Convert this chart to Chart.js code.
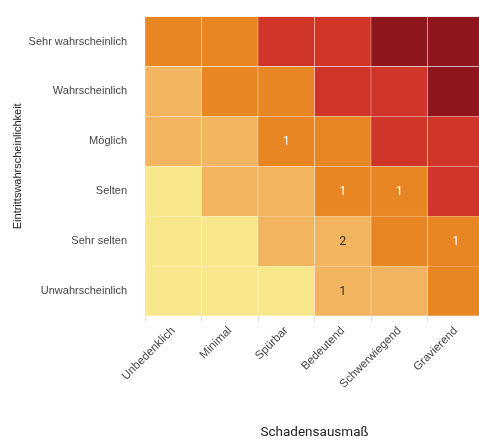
<!DOCTYPE html>
<html>
<head>
<meta charset="utf-8">
<script src="https://cdn.jsdelivr.net/npm/chart.js@4/dist/chart.umd.min.js"></script>
<style>
  html, body { margin: 0; padding: 0; overflow: hidden; background: #fff; width: 479px; height: 441px; }
  #wrap { width: 484px; height: 441px; position: relative; }
</style>
</head>
<body>
<div id="wrap"><canvas id="c"></canvas></div>
<script>
// Columns (impact) and rows (likelihood, top to bottom)
const xLabels = ['Unbedenklich', 'Minimal', 'Spürbar', 'Bedeutend', 'Schwerwiegend', 'Gravierend'];
const yLabels = ['Sehr wahrscheinlich', 'Wahrscheinlich', 'Möglich', 'Selten', 'Sehr selten', 'Unwahrscheinlich'];
// Risk level of each cell (rows top to bottom)
const rowSehrWahrscheinlich = [2, 2, 3, 3, 4, 4];
const rowWahrscheinlich     = [1, 2, 2, 3, 3, 4];
const rowMoeglich           = [1, 1, 2, 2, 3, 3];
const rowSelten             = [0, 1, 1, 2, 2, 3];
const rowSehrSelten         = [0, 0, 1, 1, 2, 2];
const rowUnwahrscheinlich   = [0, 0, 0, 1, 1, 2];
// Counts shown in cells (rows top to bottom)
const cntSehrWahrscheinlich = [0, 0, 0, 0, 0, 0];
const cntWahrscheinlich     = [0, 0, 0, 0, 0, 0];
const cntMoeglich           = [0, 0, 1, 0, 0, 0];
const cntSelten             = [0, 0, 0, 1, 1, 0];
const cntSehrSelten         = [0, 0, 0, 2, 0, 1];
const cntUnwahrscheinlich   = [0, 0, 0, 1, 0, 0];
const levelColors = ['#f8e78b', '#f2b45e', '#e98624', '#cf3528', '#8e161c'];
const levelText   = ['#333333', '#333333', '#ffffff', '#ffffff', '#ffffff'];

const levels = [rowSehrWahrscheinlich, rowWahrscheinlich, rowMoeglich, rowSelten, rowSehrSelten, rowUnwahrscheinlich];
const counts = [cntSehrWahrscheinlich, cntWahrscheinlich, cntMoeglich, cntSelten, cntSehrSelten, cntUnwahrscheinlich];

// datasets stacked bottom-up
const datasets = [];
for (let r = yLabels.length - 1; r >= 0; r--) {
  datasets.push({
    label: yLabels[r],
    data: xLabels.map(() => 1),
    backgroundColor: levels[r].map(l => levelColors[l]),
    borderColor: 'rgba(255,255,255,0.15)',
    borderWidth: 0.5,
    borderSkipped: false,
    barPercentage: 1,
    categoryPercentage: 1,
    rowIndex: r
  });
}

const countPlugin = {
  id: 'counts',
  afterDatasetsDraw(chart) {
    const ctx = chart.ctx;
    ctx.save();
    ctx.font = '400 12.5px Roboto';
    ctx.textAlign = 'center';
    ctx.textBaseline = 'middle';
    chart.data.datasets.forEach((ds, di) => {
      const meta = chart.getDatasetMeta(di);
      meta.data.forEach((bar, ci) => {
        const v = counts[ds.rowIndex][ci];
        if (!v) return;
        const c = bar.getCenterPoint();
        ctx.fillStyle = levelText[levels[ds.rowIndex][ci]];
        ctx.fillText(String(v), c.x, c.y + 1);
      });
    });
    ctx.restore();
  }
};

const sansFamily = '"Liberation Sans", Arial, sans-serif';

new Chart(document.getElementById('c'), {
  type: 'bar',
  data: { labels: xLabels, datasets },
  plugins: [countPlugin],
  options: {
    responsive: true,
    maintainAspectRatio: false,
    animation: false,
    layout: { padding: { top: 12, right: 0, bottom: 0, left: 0 } },
    plugins: { legend: { display: false }, tooltip: { enabled: false } },
    scales: {
      x: {
        stacked: true,
        offset: true,
        grid: { offset: true, drawOnChartArea: false, color: '#e0e0e0', tickLength: 6 },
        border: { display: false },
        ticks: { minRotation: 45, maxRotation: 45, color: '#444', padding: 2, font: { family: sansFamily, size: 11.5 } },
        title: { display: true, text: 'Schadensausmaß', color: '#222', padding: { top: 0, bottom: 0 }, font: { family: 'Roboto', size: 13.5 } },
        afterFit(s) { s.height = 125; }
      },
      y: {
        stacked: true,
        min: 0, max: 6,
        grid: { display: false },
        border: { display: false },
        afterBuildTicks(s) { s.ticks = [0.5, 1.5, 2.5, 3.5, 4.5, 5.5].map(v => ({ value: v })); },
        ticks: {
          color: '#444', padding: 10, font: { family: sansFamily, size: 11 },
          callback(v) { return yLabels[yLabels.length - 1 - Math.floor(v)]; }
        },
        title: { display: true, text: 'Eintrittswahrscheinlichkeit', color: '#222', padding: { top: 11, bottom: 0 }, font: { family: sansFamily, size: 11 } },
        afterFit(s) { s.width = 145; }
      }
    }
  }
});
</script>
</body>
</html>
